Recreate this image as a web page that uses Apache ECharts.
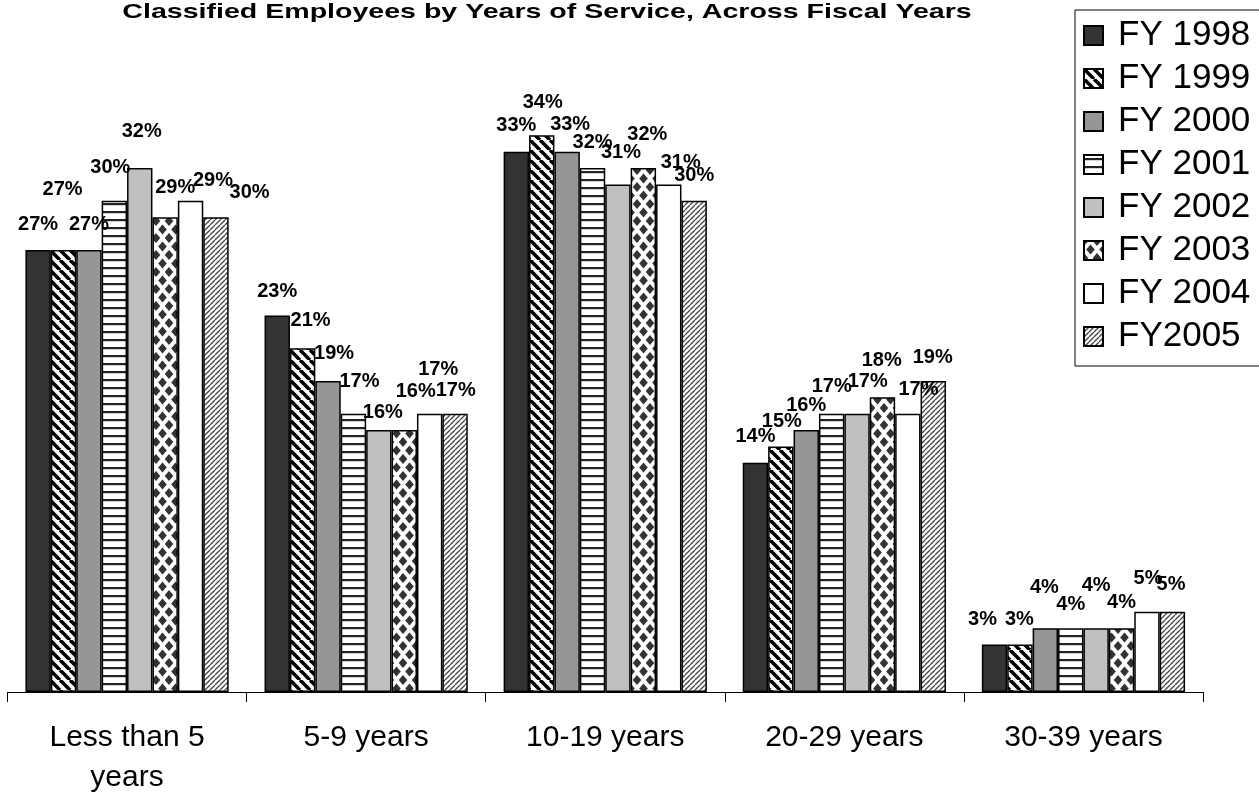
<!DOCTYPE html>
<html>
<head>
<meta charset="utf-8">
<script src="https://cdn.jsdelivr.net/npm/echarts@6/dist/echarts.min.js"></script>
<style>
html,body{margin:0;padding:0;background:#fff;}
#chart{width:1259px;height:798px;}
</style>
</head>
<body>
<div id="chart"></div>
<script>
// ---- data ----
const categories = ['Less than 5\nyears', '5-9 years', '10-19 years', '20-29 years', '30-39 years'];
const seriesNames = ['FY 1998', 'FY 1999', 'FY 2000', 'FY 2001', 'FY 2002', 'FY 2003', 'FY 2004', 'FY2005'];
const fy1998 = [27, 23, 33, 14, 2.9];
const fy1999 = [27, 21, 34, 15, 2.9];
const fy2000 = [27, 19, 33, 16, 3.9];
const fy2001 = [30, 17, 32, 17, 3.9];
const fy2002 = [32, 16, 31, 17, 3.9];
const fy2003 = [29, 16, 32, 18, 3.9];
const fy2004 = [30, 17, 31, 17, 4.9];
const fy2005 = [29, 17, 30, 19, 4.9];
const titleText = 'Classified Employees by Years of Service, Across Fiscal Years';

// ---- label nudges (layout only): [dx, up] in px per series per category ----
const labelNudge = [
  [[0,0.5],[0,-1.5],[0,1.5],[0,0.8],[-12,0.2]],
  [[-1,35.5],[8,3],[1,7.5],[1,0.2],[-0.6,0.2]],
  [[0,0.5],[6,2.7],[3,2.4],[0,-0.8],[-1,15.8]],
  [[-4,8.5],[6,6.7],[0,0.8],[0,2.5],[0,-0.9]],
  [[2,12],[4,-7],[3,6.5],[10.6,7.5],[0,17.5]],
  [[10,5],[11.5,14],[4,9],[-0.7,11.5],[0,0.8]],
  [[59,-16.5],[8.6,19.5],[12,-2.7],[10.6,-0.8],[1,8.5]],
  [[-3,11.7],[0.7,-1.5],[0,0],[-0.6,-1.6],[-1.3,2.7]]
];

// ---- patterns ----
function mk(w, h, draw) {
  const c = document.createElement('canvas');
  c.width = w; c.height = h;
  const g = c.getContext('2d');
  g.fillStyle = '#fff'; g.fillRect(0, 0, w, h);
  draw(g, w, h);
  return {image: c, repeat: 'repeat'};
}
const pBack = mk(10, 10, (g, s) => {
  g.strokeStyle = '#000'; g.lineWidth = 3.6;
  for (let k = -1; k <= 1; k++) { g.beginPath(); g.moveTo(k*s, 0); g.lineTo(k*s + s, s); g.stroke(); }
});
const pHoriz = mk(4, 8, (g, w) => {
  g.fillStyle = '#222'; g.fillRect(0, 3, w, 2.2);
});
const pDiamond = mk(13, 17, (g) => {
  g.fillStyle = '#333';
  const pts = [[0,0],[13,0],[0,17],[13,17],[6.5,8.5]];
  pts.forEach(([x, y]) => {
    g.beginPath(); g.moveTo(x, y-5.0); g.lineTo(x+4.3, y); g.lineTo(x, y+5.0); g.lineTo(x-4.3, y); g.closePath(); g.fill();
  });
});
const pFwd = mk(5, 5, (g, s) => {
  g.strokeStyle = '#444'; g.lineWidth = 1.3;
  for (let k = -1; k <= 1; k++) { g.beginPath(); g.moveTo(k*s, s); g.lineTo(k*s + s, 0); g.stroke(); }
});
const fills = ['#333333', pBack, '#969696', pHoriz, '#c0c0c0', pDiamond, '#ffffff', pFwd];
const values = [fy1998, fy1999, fy2000, fy2001, fy2002, fy2003, fy2004, fy2005];

const FONT = 'Arial, "Liberation Sans", sans-serif';

const series = seriesNames.map((name, i) => ({
  name: name,
  type: 'bar',
  barGap: '0%',
  barCategoryGap: '15%',
  itemStyle: {color: fills[i], borderColor: '#000', borderWidth: 1.5},
  label: {
    show: true, position: 'top', distance: 15,
    fontFamily: FONT, fontSize: 20, fontWeight: 'bold', color: '#000', lineHeight: 20,
    formatter: p => Math.round(p.value) + '%'
  },
  emphasis: {disabled: true},
  data: values[i].map((v, j) => ({value: v, label: {offset: [labelNudge[i][j][0], -labelNudge[i][j][1]]}}))
}));

const chart = echarts.init(document.getElementById('chart'), null, {renderer: 'canvas'});
chart.setOption({
  animation: false,
  backgroundColor: '#fff',
  grid: {left: 7.5, right: 56, top: 37, bottom: 105, containLabel: false},
  graphic: [{
    type: 'text', x: 547, y: 12, scaleX: 1.36,
    style: {text: titleText, x: 0, y: 0, align: 'center', verticalAlign: 'middle',
            fontFamily: FONT, fontSize: 21, fontWeight: 'bold', fill: '#000'}
  }],
  legend: {
    orient: 'vertical', left: 1075, top: 10,
    itemWidth: 19, itemHeight: 19, itemGap: 8, icon: 'rect',
    padding: [8, 40, 12, 8],
    borderColor: '#000', borderWidth: 1,
    textStyle: {fontFamily: FONT, fontSize: 35, color: '#000', lineHeight: 35, padding: [0, 0, 0, 10]},
    data: seriesNames
  },
  xAxis: {
    type: 'category', data: categories,
    axisLine: {lineStyle: {color: '#000', width: 1}},
    axisTick: {show: true, length: 10, lineStyle: {color: '#000'}},
    axisLabel: {fontFamily: FONT, fontSize: 30, color: '#000', lineHeight: 40, margin: 26, interval: 0}
  },
  yAxis: {type: 'value', min: 0, max: 40, show: false, splitLine: {show: false}},
  series: series
});
</script>
</body>
</html>
